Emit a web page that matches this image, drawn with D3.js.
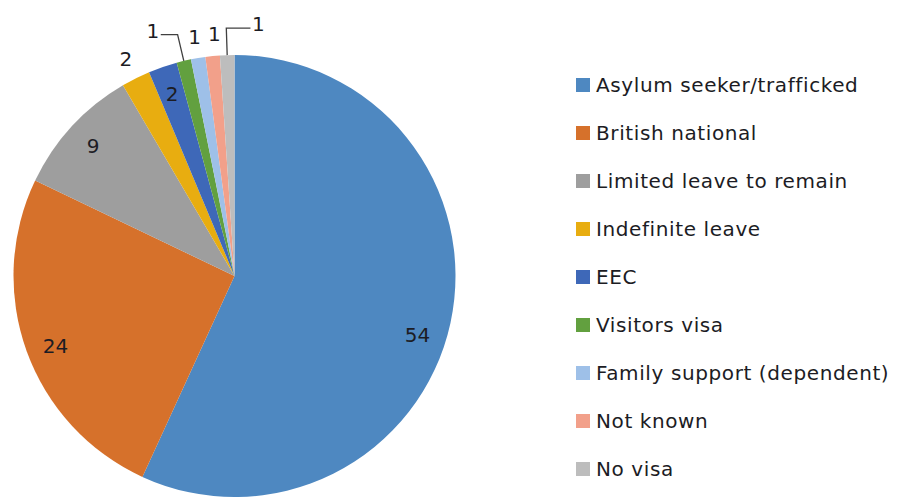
<!DOCTYPE html>
<html>
<head>
<meta charset="utf-8">
<script src="https://cdn.jsdelivr.net/npm/d3@7"></script>
<style>
  body { margin: 0; background: #fff; }
  text { font-family: "DejaVu Sans", Verdana, sans-serif; fill: #1c1c24; }
</style>
</head>
<body>
<div id="chart"></div>
<script>
// data
const categories = ["Asylum seeker/trafficked", "British national", "Limited leave to remain",
  "Indefinite leave", "EEC", "Visitors visa", "Family support (dependent)", "Not known", "No visa"]
const values = [54, 24, 9, 2, 2, 1, 1, 1, 1]
const colors = ["#4e88c1", "#d6712b", "#9e9e9e", "#e8ad10", "#3e68b8", "#62a03f",
  "#9ec0e8", "#f2a08a", "#bdbdbd"]

const width = 900, height = 497
const cx = 234.5, cy = 276, radius = 221

// label layout: inside or outside, small turn (degrees) and sideways shift for crowded labels
const labelPlace = ["in", "in", "in", "out", "in", "out", "out", "out", "out"]
const labelTurn = [5.5, -1.5, 0, 0, 0, 0, 0, 0, 0]
const labelShift = [0, 0, 0, 0, 0, -26, 0, 4, 32]

const svg = d3.select("#chart").append("svg")
  .attr("width", width)
  .attr("height", height)

const g = svg.append("g")
  .attr("transform", "translate(" + cx + "," + cy + ")")

const pie = d3.pie().sort(null).value(d => d)
const arcs = pie(values)

const arc = d3.arc().innerRadius(0).outerRadius(radius)
const inArc = d3.arc().innerRadius(radius * 0.82).outerRadius(radius * 0.92)
const outArc = d3.arc().innerRadius(radius + 22).outerRadius(radius + 22)
const bendArc = d3.arc().innerRadius(radius + 27).outerRadius(radius + 27)
const edgeArc = d3.arc().innerRadius(radius).outerRadius(radius)

g.selectAll("path.slice")
  .data(arcs)
  .join("path")
  .attr("class", "slice")
  .attr("d", arc)
  .attr("fill", (d, i) => colors[i])

function turned(d, i) {
  let t = labelTurn[i] * Math.PI / 180
  return { startAngle: d.startAngle + t, endAngle: d.endAngle + t }
}

// leader lines for labels that were pushed aside
arcs.forEach(function (d, i) {
  if (Math.abs(labelShift[i]) > 10) {
    let e = edgeArc.centroid(d)
    let b = bendArc.centroid(d)
    let o = outArc.centroid(d)
    let lx = o[0] + labelShift[i]
    let endX = lx + (labelShift[i] < 0 ? 8 : -8)
    g.append("polyline")
      .attr("points", [e, b, [endX, b[1]]].map(p => p.join(",")).join(" "))
      .attr("fill", "none")
      .attr("stroke", "#404040")
      .attr("stroke-width", 1.3)
  }
})

g.selectAll("text.value")
  .data(arcs)
  .join("text")
  .attr("class", "value")
  .attr("transform", function (d, i) {
    let p = labelPlace[i] === "in" ? inArc.centroid(turned(d, i)) : outArc.centroid(d)
    let y = p[1]
    if (Math.abs(labelShift[i]) > 10) y = bendArc.centroid(d)[1] - 4
    return "translate(" + (p[0] + labelShift[i]) + "," + y + ")"
  })
  .attr("text-anchor", "middle")
  .attr("dy", "0.36em")
  .attr("font-size", 20)
  .text(d => d.data)

// legend
const legendY = d3.scalePoint()
  .domain(categories)
  .range([85, 469])

const legend = svg.append("g")
  .attr("class", "legend")

legend.selectAll("rect")
  .data(categories)
  .join("rect")
  .attr("x", 576)
  .attr("y", d => legendY(d) - 7)
  .attr("width", 14)
  .attr("height", 14)
  .attr("fill", (d, i) => colors[i])

legend.selectAll("text")
  .data(categories)
  .join("text")
  .attr("x", 596)
  .attr("y", d => legendY(d))
  .attr("dy", "0.36em")
  .attr("font-size", 20)
  .attr("letter-spacing", 0.6)
  .text(d => d)
</script>
</body>
</html>
